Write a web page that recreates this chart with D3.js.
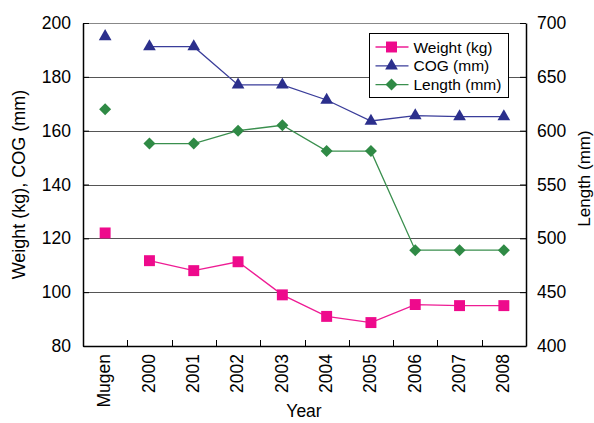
<!DOCTYPE html>
<html>
<head>
<meta charset="utf-8">
<script src="https://cdn.jsdelivr.net/npm/d3@7"></script>
<style>
  html, body { margin: 0; padding: 0; background: #fff; }
  svg { display: block; font-family: "Liberation Sans", Arial, sans-serif; }
</style>
</head>
<body>
<div id="chart"></div>
<script>
// categories and series values
const categories = ['Mugen', '2000', '2001', '2002', '2003', '2004', '2005', '2006', '2007', '2008'];
const weightKg = [122, 111.7, 108, 111.3, 99, 91, 88.7, 95.4, 95, 95];
const cogMm = [195, 191.2, 191.2, 177, 177, 171.4, 163.6, 165.6, 165.2, 165.2];
const lengthMm = [620, 588, 588, 600, 605, 581, 581, 489, 489, 489];
const leftTicks = [80, 100, 120, 140, 160, 180, 200];
const rightTicks = [400, 450, 500, 550, 600, 650, 700];
// Mugen is a stand-alone point, the lines start at 2000
const firstJoined = 1;

const width = 594, height = 423;
const margin = { top: 23, right: 68, bottom: 77, left: 83 };
const fontSize = 17.5;

const svg = d3.select('#chart')
    .append('svg')
    .attr('width', width)
    .attr('height', height)
    .attr('viewBox', `0 0 ${width} ${height}`);

const x = d3.scaleBand()
    .domain(categories)
    .range([margin.left, width - margin.right])
    .padding(0);

const yLeft = d3.scaleLinear()
    .domain([80, 200])
    .range([height - margin.bottom, margin.top]);

const yRight = d3.scaleLinear()
    .domain([400, 700])
    .range([height - margin.bottom, margin.top]);

const cx = c => x(c) + x.bandwidth() / 2;

// gridlines
svg.append('g')
    .selectAll('line')
    .data(leftTicks.slice(1))
    .join('line')
    .attr('x1', margin.left)
    .attr('x2', width - margin.right)
    .attr('y1', d => Math.round(yLeft(d)) + 0.5)
    .attr('y2', d => Math.round(yLeft(d)) + 0.5)
    .attr('stroke', d => d === 200 ? '#888' : '#555')
    .attr('stroke-width', 1);

// left axis, ticks inward
const leftAxis = svg.append('g')
    .attr('transform', `translate(${margin.left},0)`)
    .call(d3.axisLeft(yLeft).tickValues(leftTicks).tickSizeInner(-6).tickSizeOuter(0).tickPadding(12));

// right axis, ticks inward
const rightAxis = svg.append('g')
    .attr('transform', `translate(${width - margin.right},0)`)
    .call(d3.axisRight(yRight).tickValues(rightTicks).tickSizeInner(-6).tickSizeOuter(0).tickPadding(11));

// bottom axis: ticks at category boundaries
const bottomY = height - margin.bottom;
const xAxis = svg.append('g')
    .attr('transform', `translate(0,${bottomY})`)
    .call(d3.axisBottom(x).tickSize(0).tickPadding(8));
xAxis.selectAll('.tick text')
    .attr('transform', 'rotate(-90)')
    .attr('text-anchor', 'end')
    .attr('x', -8)
    .attr('y', 0)
    .attr('dy', '0.3em');
xAxis.append('g')
    .selectAll('line')
    .data(categories.slice(1))
    .join('line')
    .attr('x1', d => Math.round(x(d)) + 0.5)
    .attr('x2', d => Math.round(x(d)) + 0.5)
    .attr('y1', 0)
    .attr('y2', -6)
    .attr('stroke', '#000');

[leftAxis, rightAxis, xAxis].forEach(g => {
    g.selectAll('.domain').attr('stroke', '#000').attr('stroke-width', 1.5);
    g.selectAll('.tick line').attr('stroke', '#000');
    g.selectAll('text').attr('font-size', fontSize).attr('fill', '#000').attr('font-family', '"Liberation Sans", Arial, sans-serif');
});

// axis titles
svg.append('text')
    .attr('transform', `translate(25,${(margin.top + bottomY) / 2}) rotate(-90)`)
    .attr('text-anchor', 'middle')
    .attr('font-size', fontSize + 0.5)
    .text('Weight (kg), COG (mm)');

svg.append('text')
    .attr('transform', `translate(590,${(margin.top + bottomY) / 2 - 6}) rotate(-90)`)
    .attr('text-anchor', 'middle')
    .attr('font-size', fontSize - 0.5)
    .text('Length (mm)');

svg.append('text')
    .attr('x', 304)
    .attr('y', 417)
    .attr('text-anchor', 'middle')
    .attr('font-size', fontSize)
    .text('Year');

// series
const series = [
    { name: 'Weight (kg)', values: weightKg, y: yLeft, color: '#ee0a8c', line: '#ee1c94', symbol: d3.symbolSquare, size: 120, rotate: 0 },
    { name: 'COG (mm)', values: cogMm, y: yLeft, color: '#2b2f8c', line: '#3a3d9a', symbol: d3.symbolTriangle, size: 70, rotate: 0 },
    { name: 'Length (mm)', values: lengthMm, y: yRight, color: '#2f8a45', line: '#3a8f4e', symbol: d3.symbolSquare, size: 72, rotate: 45 }
];

const lineGen = d3.line();

series.forEach(s => {
    const pts = categories.map((c, i) => [cx(c), s.y(s.values[i])]);
    svg.append('path')
        .attr('d', lineGen(pts.slice(firstJoined)))
        .attr('fill', 'none')
        .attr('stroke', s.line)
        .attr('stroke-width', 1.3);
    svg.append('g')
        .selectAll('path')
        .data(pts)
        .join('path')
        .attr('transform', d => `translate(${d[0]},${d[1]}) rotate(${s.rotate})`)
        .attr('d', d3.symbol(s.symbol, s.size))
        .attr('fill', s.color);
});

// legend
const legend = svg.append('g').attr('transform', 'translate(369.5,33.5)');
legend.append('rect')
    .attr('width', 139)
    .attr('height', 64)
    .attr('fill', '#fff')
    .attr('stroke', '#000')
    .attr('stroke-width', 1);
series.forEach((s, i) => {
    const row = legend.append('g').attr('transform', `translate(0,${13.5 + i * 18.8})`);
    row.append('line')
        .attr('x1', 6).attr('x2', 39)
        .attr('stroke', s.line)
        .attr('stroke-width', 1.3);
    row.append('path')
        .attr('transform', `translate(22,0) rotate(${s.rotate})`)
        .attr('d', d3.symbol(s.symbol, s.size))
        .attr('fill', s.color);
    row.append('text')
        .attr('x', 44)
        .attr('dy', '0.36em')
        .attr('font-size', 15.5)
        .text(s.name);
});
</script>
</body>
</html>
